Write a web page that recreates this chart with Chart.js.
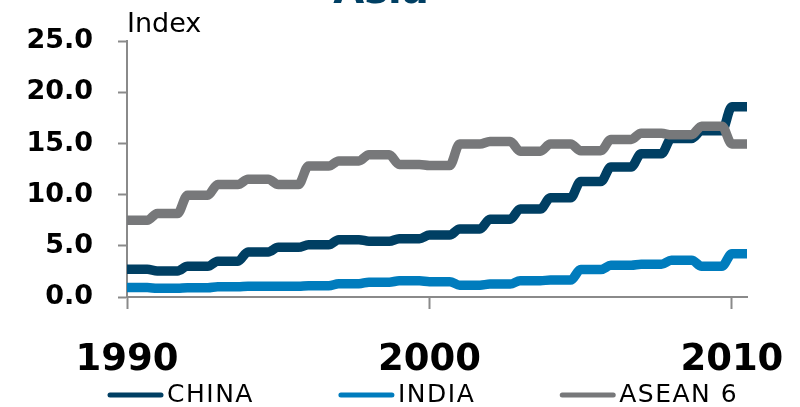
<!DOCTYPE html>
<html>
<head>
<meta charset="utf-8">
<script src="https://cdn.jsdelivr.net/npm/chart.js@4.4.1/dist/chart.umd.min.js"></script>
<style>
  html, body { margin: 0; padding: 0; background: #fff; }
  #wrap { width: 800px; height: 407px; }
</style>
</head>
<body>
<div id="wrap"><canvas id="myChart"></canvas></div>
<script>
// yearly index values
const years = [1990, 1991, 1992, 1993, 1994, 1995, 1996, 1997, 1998, 1999, 2000,
  2001, 2002, 2003, 2004, 2005, 2006, 2007, 2008, 2009, 2010];
const china = [2.7, 2.55, 3.0, 3.5, 4.4, 4.85, 5.1, 5.6, 5.45, 5.7, 6.05,
  6.65, 7.6, 8.6, 9.7, 11.3, 12.7, 14.0, 15.5, 16.25, 18.6];
const india = [0.92, 0.85, 0.9, 1.0, 1.05, 1.05, 1.1, 1.3, 1.45, 1.58, 1.5,
  1.16, 1.26, 1.6, 1.65, 2.68, 3.1, 3.2, 3.6, 3.0, 4.23];
const asean6 = [7.5, 8.15, 9.95, 11.0, 11.5, 11.0, 12.8, 13.3, 13.9, 12.95, 12.85,
  14.95, 15.2, 14.25, 14.95, 14.3, 15.4, 16.0, 15.85, 16.7, 14.95];
const seriesNames = ["CHINA", "INDIA", "ASEAN 6"];
const yTicks = [0, 5, 10, 15, 20, 25];
const xTicks = [1990, 2000, 2010];
const lastYearEnd = 2010.5; // series run to mid-2010

const FONT = "'DejaVu Sans', Verdana, sans-serif";

// each year holds its value, then moves to the next one in the last quarter
function yearSteps(values) {
  const pts = [];
  for (let i = 0; i < years.length; i++) {
    pts.push({ x: years[i], y: values[i] });
    const end = i === years.length - 1 ? lastYearEnd : years[i] + 0.67;
    pts.push({ x: end, y: values[i] });
  }
  return pts;
}

function lineSet(label, values, color, order) {
  return {
    label: label,
    data: yearSteps(values),
    borderColor: color,
    backgroundColor: color,
    borderWidth: 9.5,
    borderJoinStyle: "round",
    cubicInterpolationMode: "monotone",
    pointRadius: 0,
    order: order
  };
}

// title, axis caption and a line-style legend
const textPlugin = {
  id: "texts",
  afterDraw(chart) {
    const ctx = chart.ctx;
    const area = chart.chartArea;
    ctx.save();
    ctx.fillStyle = "#003f63";
    ctx.font = "bold 40px " + FONT;
    ctx.textAlign = "center";
    ctx.textBaseline = "alphabetic";
    ctx.fillText("Asia", 381, 3);

    ctx.fillStyle = "#000";
    ctx.font = "27px " + FONT;
    ctx.textAlign = "left";
    ctx.fillText("Index", area.left, 32);

    // legend
    ctx.font = "25px " + FONT;
    ctx.letterSpacing = "1.5px";
    ctx.textBaseline = "middle";
    let x = 108;
    const y = 395;
    chart.data.datasets.forEach(ds => {
      ctx.strokeStyle = ds.borderColor;
      ctx.lineWidth = 5;
      ctx.lineCap = "round";
      ctx.beginPath();
      ctx.moveTo(x + 2, y);
      ctx.lineTo(x + 53, y);
      ctx.stroke();
      ctx.fillStyle = "#000";
      ctx.fillText(ds.label, x + 59, y);
      x += 59 + ctx.measureText(ds.label).width + 85;
    });
    ctx.restore();
  }
};

const ctx = document.getElementById("myChart").getContext("2d");
const chart = new Chart(ctx, {
  type: "line",
  data: {
    datasets: [
      lineSet(seriesNames[0], china, "#003f63", 1),
      lineSet(seriesNames[1], india, "#007cbd", 2),
      lineSet(seriesNames[2], asean6, "#77787a", 0)
    ]
  },
  plugins: [textPlugin],
  options: {
    responsive: true,
    maintainAspectRatio: false,
    animation: false,
    layout: { padding: { top: 39, right: 53, bottom: 30, left: 0 } },
    plugins: {
      legend: { display: false },
      tooltip: { enabled: false }
    },
    scales: {
      x: {
        type: "linear",
        min: years[0],
        max: lastYearEnd,
        afterBuildTicks: scale => {
          scale.ticks = xTicks.map(v => ({ value: v }));
        },
        afterFit: scale => {
          scale.height = 80;
          scale.paddingLeft = 0;
          scale.paddingRight = 0;
        },
        ticks: {
          callback: v => String(v),
          color: "#000",
          font: { family: FONT, size: 37, weight: "bold" },
          padding: 29,
          maxRotation: 0,
          autoSkip: false
        },
        grid: {
          drawOnChartArea: false,
          color: "#8a8a8a",
          tickLength: 12,
          tickWidth: 2
        },
        border: { color: "#8a8a8a", width: 2 }
      },
      y: {
        min: 0,
        max: 25,
        afterBuildTicks: scale => {
          scale.ticks = yTicks.map(v => ({ value: v }));
        },
        afterFit: scale => { scale.width = 127; },
        ticks: {
          callback: v => v.toFixed(1),
          color: "#000",
          font: { family: FONT, size: 27, weight: "bold" },
          padding: 25
        },
        grid: {
          drawOnChartArea: false,
          color: "#8a8a8a",
          tickLength: 9,
          tickWidth: 2
        },
        border: { color: "#8a8a8a", width: 2 }
      }
    }
  }
});
</script>
</body>
</html>
